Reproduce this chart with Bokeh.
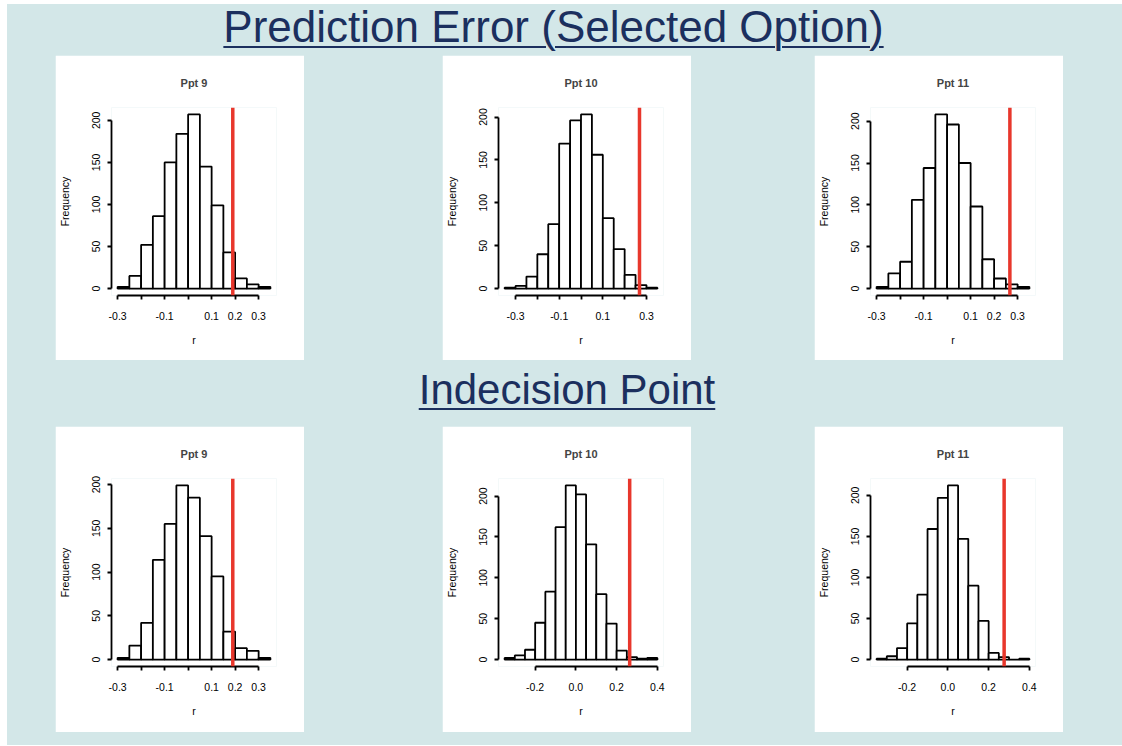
from bokeh.plotting import figure
from bokeh.models import Range1d, FixedTicker, Span, Div, Spacer
from bokeh.layouts import row, column
from bokeh.embed import file_html
from bokeh.resources import INLINE

# ---------------- data ----------------
edges_a = [-0.30, -0.25, -0.20, -0.15, -0.10, -0.05, 0.00, 0.05, 0.10, 0.15, 0.20, 0.25, 0.30, 0.35]
edges_b = [-0.35, -0.30, -0.25, -0.20, -0.15, -0.10, -0.05, 0.00, 0.05, 0.10, 0.15, 0.20, 0.25, 0.30, 0.35]
edges_c = [-0.35, -0.30, -0.25, -0.20, -0.15, -0.10, -0.05, 0.00, 0.05, 0.10, 0.15, 0.20, 0.25, 0.30, 0.35, 0.40]

pe_ppt9 = [2, 15, 52, 86, 150, 184, 207, 145, 99, 43, 12, 5, 2]
pe_ppt10 = [1, 3, 14, 40, 75, 169, 196, 203, 156, 82, 46, 16, 4, 1]
pe_ppt11 = [2, 18, 32, 106, 144, 208, 196, 150, 98, 35, 12, 5, 2]
ip_ppt9 = [2, 16, 42, 114, 155, 199, 185, 141, 95, 32, 13, 10, 2]
ip_ppt10 = [2, 5, 12, 45, 83, 162, 213, 202, 141, 80, 44, 11, 3, 1, 2]
ip_ppt11 = [1, 4, 14, 44, 79, 159, 197, 212, 147, 90, 47, 8, 3, 0, 1]

observed_pe = [0.19, 0.268, 0.267]
observed_ip = [0.19, 0.264, 0.276]

titles = ["Ppt 9", "Ppt 10", "Ppt 11"]

ticks_a = [-0.3, -0.2, -0.1, 0.0, 0.1, 0.2, 0.3]
labels_a = ["-0.3", "", "-0.1", "", "0.1", "0.2", "0.3"]
labels_a2 = ["-0.3", "", "-0.1", "", "0.1", "", "0.3"]
ticks_c = [-0.2, 0.0, 0.2, 0.4]
labels_c = ["-0.2", "0.0", "0.2", "0.4"]
y_ticks = [0, 50, 100, 150, 200]
y_labels = ["0", "50", "100", "150", "200"]

section_titles = ["Prediction Error (Selected Option)", "Indecision Point"]

# ---------------- style ----------------
BG = "#d3e7e8"
FONT = "Liberation Sans"
W = 1115


def hist_panel(title, edges, counts, obs, xticks, xlabels, height):
    span = edges[-1] - edges[0]
    top = max(counts)
    p = figure(width=249, height=height, output_backend="svg", toolbar_location=None,
               x_range=Range1d(edges[0] - 0.04 * span, edges[-1] + 0.04 * span),
               y_range=Range1d(-0.04 * top, 1.04 * top),
               min_border_left=53, min_border_right=28, min_border_top=52,
               min_border_bottom=height - 240,
               background_fill_color="white", border_fill_color="white")
    p.outline_line_color = None
    p.grid.visible = False
    p.title.text = title
    p.title.align = "center"
    p.title.text_font = FONT
    p.title.text_font_size = "11px"
    p.title.text_font_style = "bold"
    p.title.standoff = 38

    p.quad(left=edges[:-1], right=edges[1:], bottom=0, top=counts,
           fill_color="white", line_color="black", line_width=1.8)
    p.add_layout(Span(location=obs, dimension="height", line_color="#e8372c", line_width=3.5))

    for ax in (p.xaxis[0], p.yaxis[0]):
        ax.axis_line_width = 1.8
        ax.major_tick_line_width = 1.8
        ax.major_tick_out = 4
        ax.major_tick_in = 0
        ax.minor_tick_line_color = None
        ax.major_label_text_font = FONT
        ax.major_label_text_font_size = "10.5px"
        ax.major_label_text_color = "black"
        ax.axis_label_text_font = FONT
        ax.axis_label_text_font_size = "10.5px"
        ax.axis_label_text_font_style = "normal"
        ax.axis_label_text_color = "black"

    xa = p.xaxis[0]
    xa.ticker = FixedTicker(ticks=xticks)
    xa.bounds = (xticks[0], xticks[-1])
    xa.major_label_overrides = {t: l for t, l in zip(xticks, xlabels)}
    xa.major_label_standoff = 12
    xa.axis_label = "r"
    xa.axis_label_standoff = 11

    ya = p.yaxis[0]
    ya.ticker = FixedTicker(ticks=y_ticks)
    ya.bounds = (y_ticks[0], y_ticks[-1])
    ya.major_label_overrides = {t: l for t, l in zip(y_ticks, y_labels)}
    ya.major_label_orientation = "vertical"
    ya.major_label_standoff = 7
    ya.axis_label = "Frequency"
    ya.axis_label_standoff = 19
    return p


def section_title(text, height, line_height, size, shift):
    pad = "padding-left:%dpx;" % shift if shift > 0 else "padding-right:%dpx;" % (-shift)
    html = ('<div style="width:%dpx;box-sizing:border-box;%s text-align:center;'
            'font-family:\'%s\';font-size:%dpx;color:#1b2f5e;text-decoration:underline;'
            'text-decoration-thickness:2px;text-underline-offset:4px;white-space:nowrap;'
            'line-height:%dpx;">%s</div>') % (W, pad, FONT, size, line_height, text)
    return Div(text=html, width=W, height=height, margin=0)


row1 = [
    hist_panel(titles[0], edges_a, pe_ppt9, observed_pe[0], ticks_a, labels_a, 305),
    hist_panel(titles[1], edges_b, pe_ppt10, observed_pe[1], ticks_a, labels_a2, 305),
    hist_panel(titles[2], edges_a, pe_ppt11, observed_pe[2], ticks_a, labels_a, 305),
]
row2 = [
    hist_panel(titles[0], edges_a, ip_ppt9, observed_ip[0], ticks_a, labels_a, 306),
    hist_panel(titles[1], edges_c, ip_ppt10, observed_ip[1], ticks_c, labels_c, 306),
    hist_panel(titles[2], edges_c, ip_ppt11, observed_ip[2], ticks_c, labels_c, 306),
]


def panel_row(figs, h):
    return row(Spacer(width=48, height=h), figs[0], Spacer(width=138, height=h), figs[1],
               Spacer(width=123, height=h), figs[2], Spacer(width=59, height=h),
               width=W, height=h)


layout = column(
    section_title(section_titles[0], 51, 46, 44, -22),
    panel_row(row1, 305),
    section_title(section_titles[1], 66, 60, 42, 5),
    panel_row(row2, 306),
    Spacer(width=W, height=13),
    width=W, height=741,
    margin=(4, 0, 0, 7),
    styles={"background-color": BG},
)

open("out.html", "w").write(file_html(layout, INLINE))
